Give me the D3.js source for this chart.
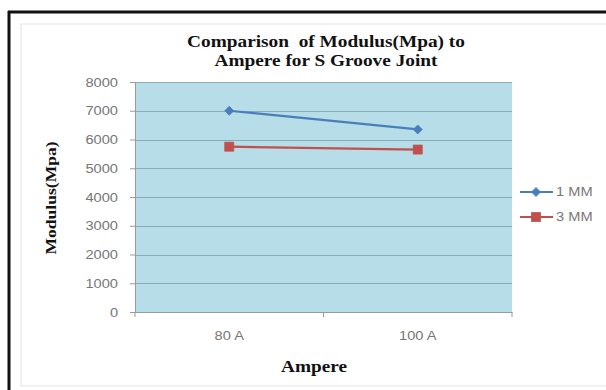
<!DOCTYPE html>
<html>
<head>
<meta charset="utf-8">
<script src="https://cdn.jsdelivr.net/npm/d3@7"></script>
<style>
  html, body { margin: 0; padding: 0; background: #ffffff; }
  svg { display: block; }
  text { white-space: pre; }
</style>
</head>
<body>
<svg id="chart" width="606" height="390"></svg>
<script>
// Welding current groups and modulus values (MPa) per plate thickness
const categories = ["80 A", "100 A"];
const seriesNames = ["1 MM", "3 MM"];
const modulus1mm = [7000, 6350];
const modulus3mm = [5750, 5650];
const yTicks = [0, 1000, 2000, 3000, 4000, 5000, 6000, 7000, 8000];
const titleLines = ["Comparison  of Modulus(Mpa) to", "Ampere for S Groove Joint"];
const xTitle = "Ampere";
const yTitle = "Modulus(Mpa)";

const series = [
  { name: seriesNames[0], values: modulus1mm, color: "#4a7ebb", marker: "diamond" },
  { name: seriesNames[1], values: modulus3mm, color: "#c0504d", marker: "square" }
];

const svg = d3.select("#chart");
const plot = { left: 135, right: 512, top: 82, bottom: 312 };
const serif = "'Liberation Serif', 'Times New Roman', serif";
const sans = "'Liberation Sans', Arial, sans-serif";
const stretch = 1.17; // glyphs in this chart are set wide

// Frame of the chart area
svg.append("rect").attr("x", 21).attr("y", 24).attr("width", 600).attr("height", 362)
  .attr("fill", "none").attr("stroke", "#e4e4e4").attr("stroke-width", 1);
svg.append("line").attr("x1", 9).attr("x2", 9).attr("y1", 11).attr("y2", 390)
  .attr("stroke", "#111").attr("stroke-width", 3);
svg.append("line").attr("x1", 8).attr("x2", 606).attr("y1", 12).attr("y2", 12)
  .attr("stroke", "#111").attr("stroke-width", 3);

const x = d3.scaleBand().domain(categories).range([plot.left, plot.right]);
const y = d3.scaleLinear().domain([0, 8000]).range([plot.bottom, plot.top]);

// Plot background
svg.append("rect").attr("x", plot.left).attr("y", plot.top)
  .attr("width", plot.right - plot.left).attr("height", plot.bottom - plot.top)
  .attr("fill", "#b7dde8");

// Horizontal gridlines
svg.append("g").selectAll("line").data(yTicks.filter(d => d > 0)).join("line")
  .attr("x1", plot.left).attr("x2", plot.right)
  .attr("y1", d => Math.round(y(d)) + 0.5).attr("y2", d => Math.round(y(d)) + 0.5)
  .attr("stroke", "#88abba").attr("stroke-width", 1);

// Y axis
const yAxis = svg.append("g").attr("transform", `translate(${plot.left},0)`)
  .call(d3.axisLeft(y).tickValues(yTicks).tickSize(5).tickPadding(12).tickFormat(d3.format("d")));
yAxis.select(".domain").attr("stroke", "#9a9a9a");
yAxis.selectAll(".tick line").attr("stroke", "#9a9a9a");
yAxis.selectAll(".tick text").attr("fill", "#777").style("font-family", sans).style("font-size", "12.5px");

// X axis with boundary ticks between categories
const xAxis = svg.append("g").attr("transform", `translate(0,${plot.bottom})`)
  .call(d3.axisBottom(x).tickSize(0).tickPadding(19));
xAxis.select(".domain").attr("stroke", "#9a9a9a");
xAxis.selectAll(".tick text").attr("fill", "#777").style("font-family", sans).style("font-size", "12.5px");
const boundaries = [plot.left, x(categories[1]), plot.right];
xAxis.selectAll("line.bound").data(boundaries).join("line").attr("class", "bound")
  .attr("x1", d => d).attr("x2", d => d).attr("y1", 0).attr("y2", 5)
  .attr("stroke", "#9a9a9a");

// Series lines and markers
const line = d3.line().x((d, i) => x(categories[i]) + x.bandwidth() / 2).y(d => y(d));
const markerPath = (type, cx, cy) => type === "diamond"
  ? `M${cx},${cy - 4.5}L${cx + 4.5},${cy}L${cx},${cy + 4.5}L${cx - 4.5},${cy}Z`
  : `M${cx - 4.5},${cy - 4.5}h9v9h-9Z`;

series.forEach(s => {
  svg.append("path").datum(s.values).attr("d", line)
    .attr("fill", "none").attr("stroke", s.color).attr("stroke-width", 2.2);
  svg.append("g").selectAll("path").data(s.values).join("path")
    .attr("d", (d, i) => markerPath(s.marker, x(categories[i]) + x.bandwidth() / 2, y(d)))
    .attr("fill", s.color).attr("stroke", s.color).attr("stroke-width", 0.8);
});

// Legend
const legend = svg.append("g");
series.forEach((s, i) => {
  const ly = 192 + i * 25;
  legend.append("line").attr("x1", 520).attr("x2", 553).attr("y1", ly).attr("y2", ly)
    .attr("stroke", s.color).attr("stroke-width", 2.2);
  legend.append("path").attr("d", markerPath(s.marker, 536, ly))
    .attr("fill", s.color).attr("stroke", s.color).attr("stroke-width", 0.8);
  legend.append("text").attr("x", 556).attr("y", ly).attr("dy", "0.35em")
    .attr("fill", "#777").style("font-family", sans).style("font-size", "12.5px")
    .text(s.name);
});

// Titles
const title = svg.append("g");
titleLines.forEach((t, i) => {
  title.append("text").attr("x", 326).attr("y", 47 + i * 19).attr("text-anchor", "middle")
    .style("font-family", serif).style("font-size", "16.5px").style("font-weight", "bold")
    .attr("fill", "#111").text(t);
});
svg.append("text").attr("x", 314).attr("y", 372).attr("text-anchor", "middle")
  .style("font-family", serif).style("font-size", "16.5px").style("font-weight", "bold")
  .attr("fill", "#111").text(xTitle);
svg.append("text").attr("transform", "translate(56,198) rotate(-90)").attr("text-anchor", "middle")
  .style("font-family", serif).style("font-size", "15px").style("font-weight", "bold")
  .attr("fill", "#111").text(yTitle);

// Widen every label to the chart's stretched lettering
svg.selectAll("text").each(function () {
  const w = this.getComputedTextLength();
  d3.select(this).attr("textLength", w * stretch).attr("lengthAdjust", "spacingAndGlyphs");
});
</script>
</body>
</html>
